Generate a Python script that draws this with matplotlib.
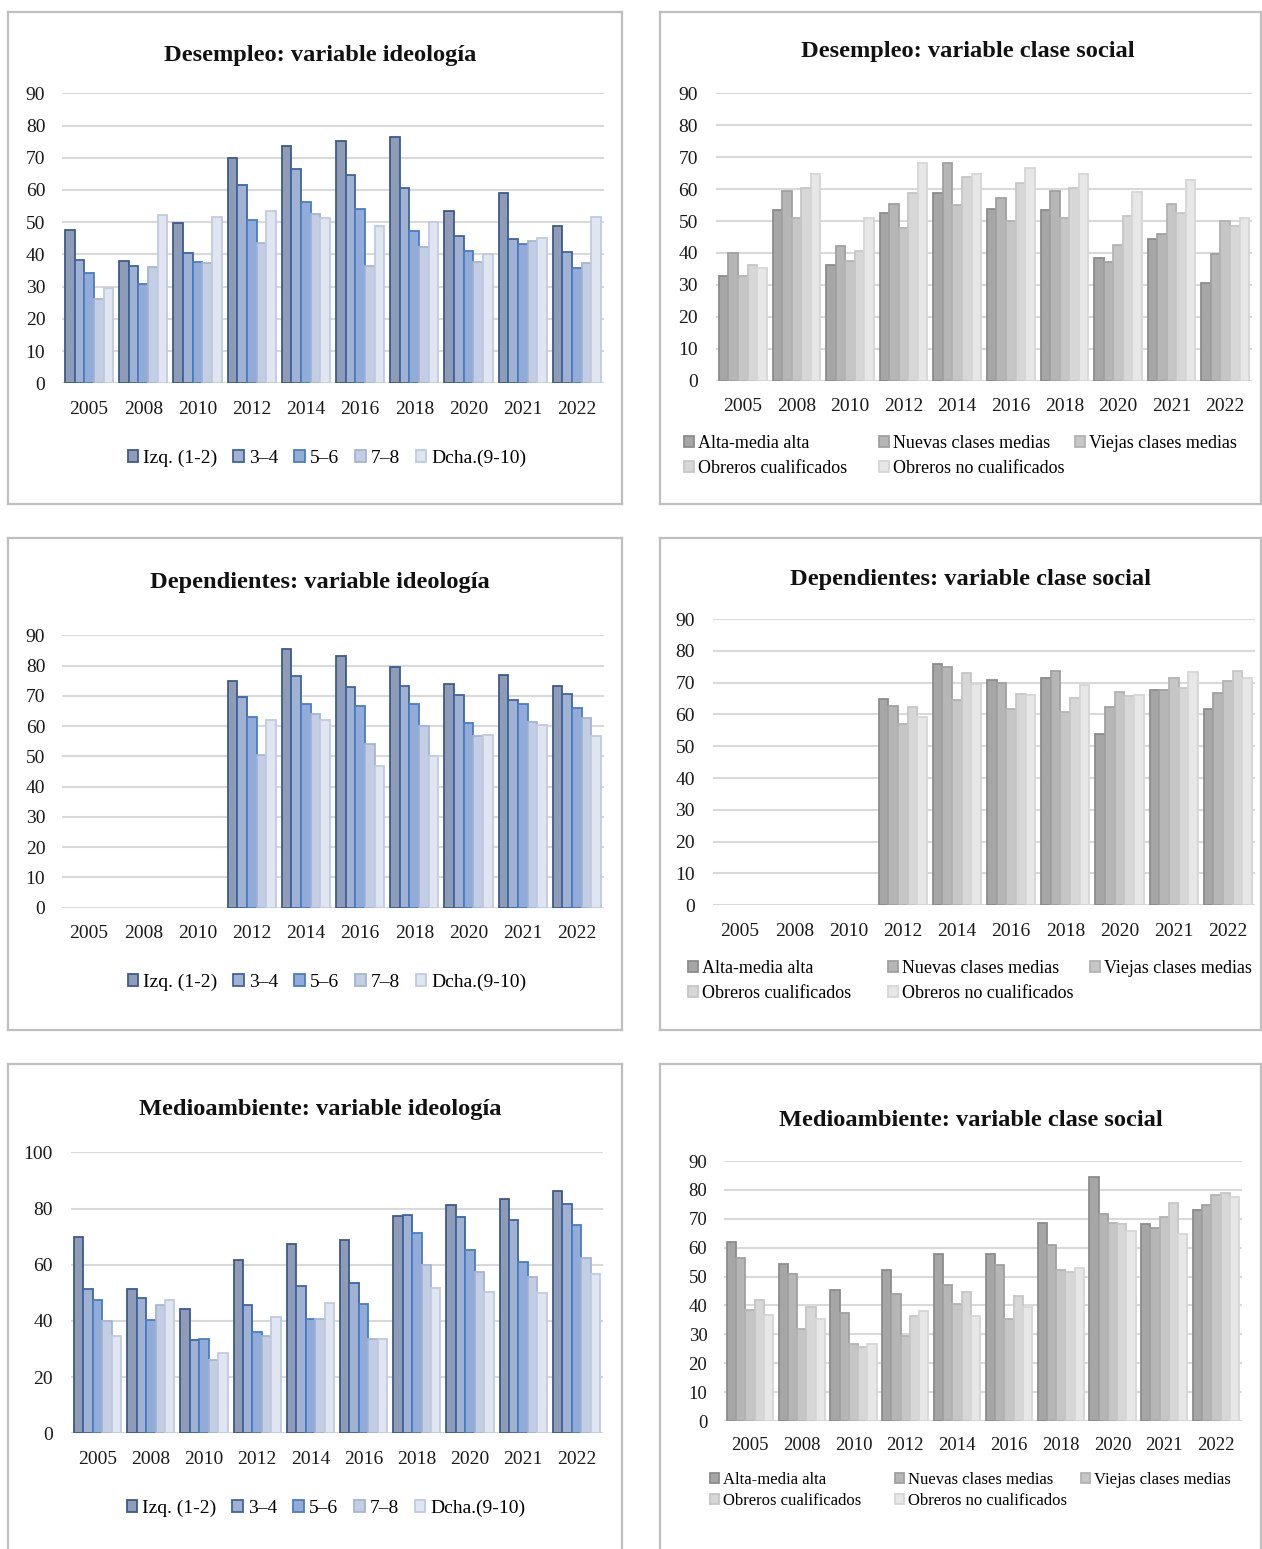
import numpy as np
import matplotlib
matplotlib.use("Agg")
import matplotlib.pyplot as plt
from matplotlib.lines import Line2D

plt.rcParams['font.family'] = ['Liberation Serif', 'DejaVu Serif']

W, H = 1262, 1549
nan = np.nan

years = ['2005', '2008', '2010', '2012', '2014', '2016', '2018', '2020', '2021', '2022']
ideo_labels = ['Izq. (1-2)', '3–4', '5–6', '7–8', 'Dcha.(9-10)']
clase_labels = ['Alta-media alta', 'Nuevas clases medias', 'Viejas clases medias',
                'Obreros cualificados', 'Obreros no cualificados']

# Desempleo por ideología
des_izq = [47.5, 37.9, 49.6, 69.9, 73.6, 75.1, 76.5, 53.5, 59.0, 48.9]
des_34 = [38.4, 36.4, 40.5, 61.4, 66.5, 64.6, 60.6, 45.8, 44.8, 40.8]
des_56 = [34.3, 30.7, 37.6, 50.6, 56.2, 54.1, 47.3, 41.0, 43.3, 35.7]
des_78 = [26.2, 36.2, 37.3, 43.6, 52.4, 36.5, 42.4, 37.5, 44.3, 37.2]
des_dcha = [29.5, 52.2, 51.7, 53.4, 51.3, 48.7, 50.2, 40.0, 45.0, 51.7]

# Desempleo por clase social
des_alta = [32.8, 53.4, 36.1, 52.5, 58.8, 53.8, 53.4, 38.5, 44.3, 30.7]
des_nuevas = [40.1, 59.5, 42.1, 55.2, 68.2, 57.3, 59.5, 37.3, 46.0, 39.8]
des_viejas = [32.8, 50.9, 37.5, 47.9, 55.0, 50.1, 50.9, 42.5, 55.3, 50.0]
des_ocual = [36.3, 60.2, 40.5, 58.9, 63.8, 61.8, 60.2, 51.6, 52.4, 48.6]
des_onocual = [35.4, 64.6, 50.8, 68.3, 64.7, 66.7, 64.6, 59.1, 63.0, 50.8]

# Dependientes por ideología
dep_izq = [nan, nan, nan, 75.0, 85.4, 83.0, 79.5, 74.0, 76.8, 73.3]
dep_34 = [nan, nan, nan, 69.6, 76.5, 72.9, 73.1, 70.2, 68.6, 70.6]
dep_56 = [nan, nan, nan, 63.1, 67.2, 66.6, 67.2, 61.1, 67.2, 65.9]
dep_78 = [nan, nan, nan, 50.3, 64.1, 54.1, 60.1, 56.7, 61.5, 62.6]
dep_dcha = [nan, nan, nan, 61.9, 62.1, 46.8, 50.0, 57.0, 60.4, 56.8]

# Dependientes por clase social
dep_alta = [nan, nan, nan, 65.0, 75.9, 70.8, 71.5, 53.8, 67.6, 61.6]
dep_nuevas = [nan, nan, nan, 62.8, 74.8, 69.8, 73.8, 62.4, 67.8, 66.6]
dep_viejas = [nan, nan, nan, 57.0, 64.6, 61.8, 60.7, 67.1, 71.4, 70.6]
dep_ocual = [nan, nan, nan, 62.3, 73.0, 66.4, 65.1, 65.9, 68.3, 73.7]
dep_onocual = [nan, nan, nan, 59.1, 69.5, 66.2, 69.1, 66.2, 73.2, 71.4]

# Medioambiente por ideología
med_izq = [69.9, 51.4, 44.2, 61.6, 67.5, 68.9, 77.2, 81.1, 83.3, 86.4]
med_34 = [51.4, 48.0, 33.3, 45.6, 52.4, 53.4, 77.6, 77.1, 75.8, 81.5]
med_56 = [47.3, 40.2, 33.7, 36.1, 40.6, 45.9, 71.4, 65.2, 60.9, 74.0]
med_78 = [40.0, 45.8, 26.1, 34.8, 40.6, 33.7, 60.0, 57.4, 55.6, 62.5]
med_dcha = [34.5, 47.6, 28.5, 41.3, 46.5, 33.7, 51.8, 50.2, 50.1, 56.6]

# Medioambiente por clase social
med_alta = [61.9, 54.4, 45.4, 52.1, 57.7, 57.7, 68.6, 84.5, 68.3, 72.9]
med_nuevas = [56.4, 50.9, 37.5, 43.9, 47.1, 54.0, 60.8, 71.5, 66.9, 74.6]
med_viejas = [38.3, 31.9, 26.6, 29.3, 40.6, 35.4, 52.2, 68.5, 70.7, 78.3]
med_ocual = [42.0, 39.3, 25.5, 36.4, 44.6, 43.4, 51.6, 68.2, 75.5, 78.8]
med_onocual = [36.7, 35.2, 26.6, 38.2, 36.2, 39.3, 53.1, 65.9, 64.9, 77.4]

ideo_fill = ['#8e9cb8', '#a0b1d2', '#91acd9', '#c3cde3', '#dfe5f1']
ideo_edge = ['#3d5a8a', '#3e64a0', '#4b7cc3', '#a5b5d5', '#c0cae0']
clase_fill = ['#a6a6a6', '#b6b6b6', '#c6c6c6', '#d7d7d7', '#e7e7e7']
clase_edge = ['#8c8c8c', '#a0a0a0', '#b3b3b3', '#c6c6c6', '#d6d6d6']

GRID = '#d9d9d9'
BORDER = '#bfbfbf'

fig = plt.figure(figsize=(W / 100, H / 100), dpi=100)


def fx(x):
    return x / W


def fy(y):
    return 1 - y / H


def panel_border(x0, y0, x1, y1):
    for xs, ys in [((x0, x1), (y0, y0)), ((x0, x1), (y1, y1)),
                   ((x0, x0), (y0, y1)), ((x1, x1), (y0, y1))]:
        fig.add_artist(Line2D([fx(v) for v in xs], [fy(v) for v in ys],
                              color=BORDER, lw=1.6, transform=fig.transFigure))


def bar_panel(box, series, fills, edges, ymax, ystep, title, title_xy,
              tick_fs=14, ypad=12, xpad=12.5):
    left, top, right, bottom = box
    ax = fig.add_axes([fx(left), fy(bottom), (right - left) / W, (bottom - top) / H])
    x = np.arange(len(years))
    n = len(series)
    w = 0.178
    bars = []
    for j, (vals, fc, ec) in enumerate(zip(series, fills, edges)):
        b = ax.bar(x + (j - (n - 1) / 2) * w, vals, width=w, color=fc,
                   edgecolor=ec, linewidth=1.3, zorder=3)
        bars.append(b)
    ax.set_xlim(-0.5, len(years) - 0.5)
    ax.set_ylim(0, ymax)
    ax.set_yticks(np.arange(0, ymax + 1, ystep))
    ax.set_xticks(x)
    ax.set_xticklabels(years)
    ax.yaxis.grid(True, color=GRID, lw=1.5, zorder=0)
    ax.set_axisbelow(True)
    for s in ax.spines.values():
        s.set_visible(False)
    ax.tick_params(axis='both', length=0, labelsize=tick_fs, colors='#1a1a1a')
    ax.tick_params(axis='y', pad=ypad)
    ax.tick_params(axis='x', pad=xpad)
    fig.text(fx(title_xy[0]), fy(title_xy[1]), title, ha='center', va='center',
             fontsize=17.6, fontweight='bold', color='#111111')
    return ax, bars


def ideo_legend(bars, cx, cy, fs=14):
    fig.legend([b for b in bars], ideo_labels, loc='center',
               bbox_to_anchor=(fx(cx), fy(cy)), ncol=5, frameon=False,
               fontsize=fs, handlelength=0.55, handleheight=0.55,
               handletextpad=0.25, columnspacing=0.82, borderpad=0,
               borderaxespad=0)


def clase_legend(bars, cols_x, row_y, fs=13, spacing=0.45):
    groups = [[0, 3], [1, 4], [2]]
    for cx, g in zip(cols_x, groups):
        fig.legend([bars[i] for i in g], [clase_labels[i] for i in g],
                   loc='upper left', bbox_to_anchor=(fx(cx), fy(row_y)),
                   ncol=1, frameon=False, fontsize=fs, handlelength=0.55,
                   handleheight=0.55, handletextpad=0.25, labelspacing=spacing,
                   borderpad=0, borderaxespad=0)


# panel frames
panel_border(8, 12, 622, 504)
panel_border(660, 12, 1261, 504)
panel_border(8, 538, 622, 1030)
panel_border(660, 538, 1261, 1030)
panel_border(8, 1064, 622, 1560)
panel_border(660, 1064, 1261, 1560)

# Desempleo
ax1, b1 = bar_panel((62, 93.3, 604, 383.3),
                    [des_izq, des_34, des_56, des_78, des_dcha],
                    ideo_fill, ideo_edge, 90, 10,
                    'Desempleo: variable ideología', (320, 56))
ideo_legend(b1, 327, 458)

ax2, b2 = bar_panel((716, 93.3, 1252, 380.7),
                    [des_alta, des_nuevas, des_viejas, des_ocual, des_onocual],
                    clase_fill, clase_edge, 90, 10,
                    'Desempleo: variable clase social', (968, 52), ypad=13)
clase_legend(b2, [684, 879, 1075], 435)

# Dependientes
ax3, b3 = bar_panel((62, 635.3, 604, 907.7),
                    [dep_izq, dep_34, dep_56, dep_78, dep_dcha],
                    ideo_fill, ideo_edge, 90, 10,
                    'Dependientes: variable ideología', (320, 583))
ideo_legend(b3, 327, 982)

ax4, b4 = bar_panel((713, 619, 1255, 905.3),
                    [dep_alta, dep_nuevas, dep_viejas, dep_ocual, dep_onocual],
                    clase_fill, clase_edge, 90, 10,
                    'Dependientes: variable clase social', (971, 579), ypad=13)
clase_legend(b4, [688, 888, 1090], 960)

# Medioambiente
ax5, b5 = bar_panel((71, 1152.3, 603, 1433.3),
                    [med_izq, med_34, med_56, med_78, med_dcha],
                    ideo_fill, ideo_edge, 100, 20,
                    'Medioambiente: variable ideología', (320, 1109), ypad=13)
ideo_legend(b5, 326, 1508)

ax6, b6 = bar_panel((724, 1161, 1242, 1421),
                    [med_alta, med_nuevas, med_viejas, med_ocual, med_onocual],
                    clase_fill, clase_edge, 90, 10,
                    'Medioambiente: variable clase social', (971, 1121),
                    tick_fs=13.5, ypad=12, xpad=11.5)
clase_legend(b6, [710, 895, 1081], 1472, fs=12, spacing=0.3)

fig.savefig('out.png', dpi=100, facecolor='white')
